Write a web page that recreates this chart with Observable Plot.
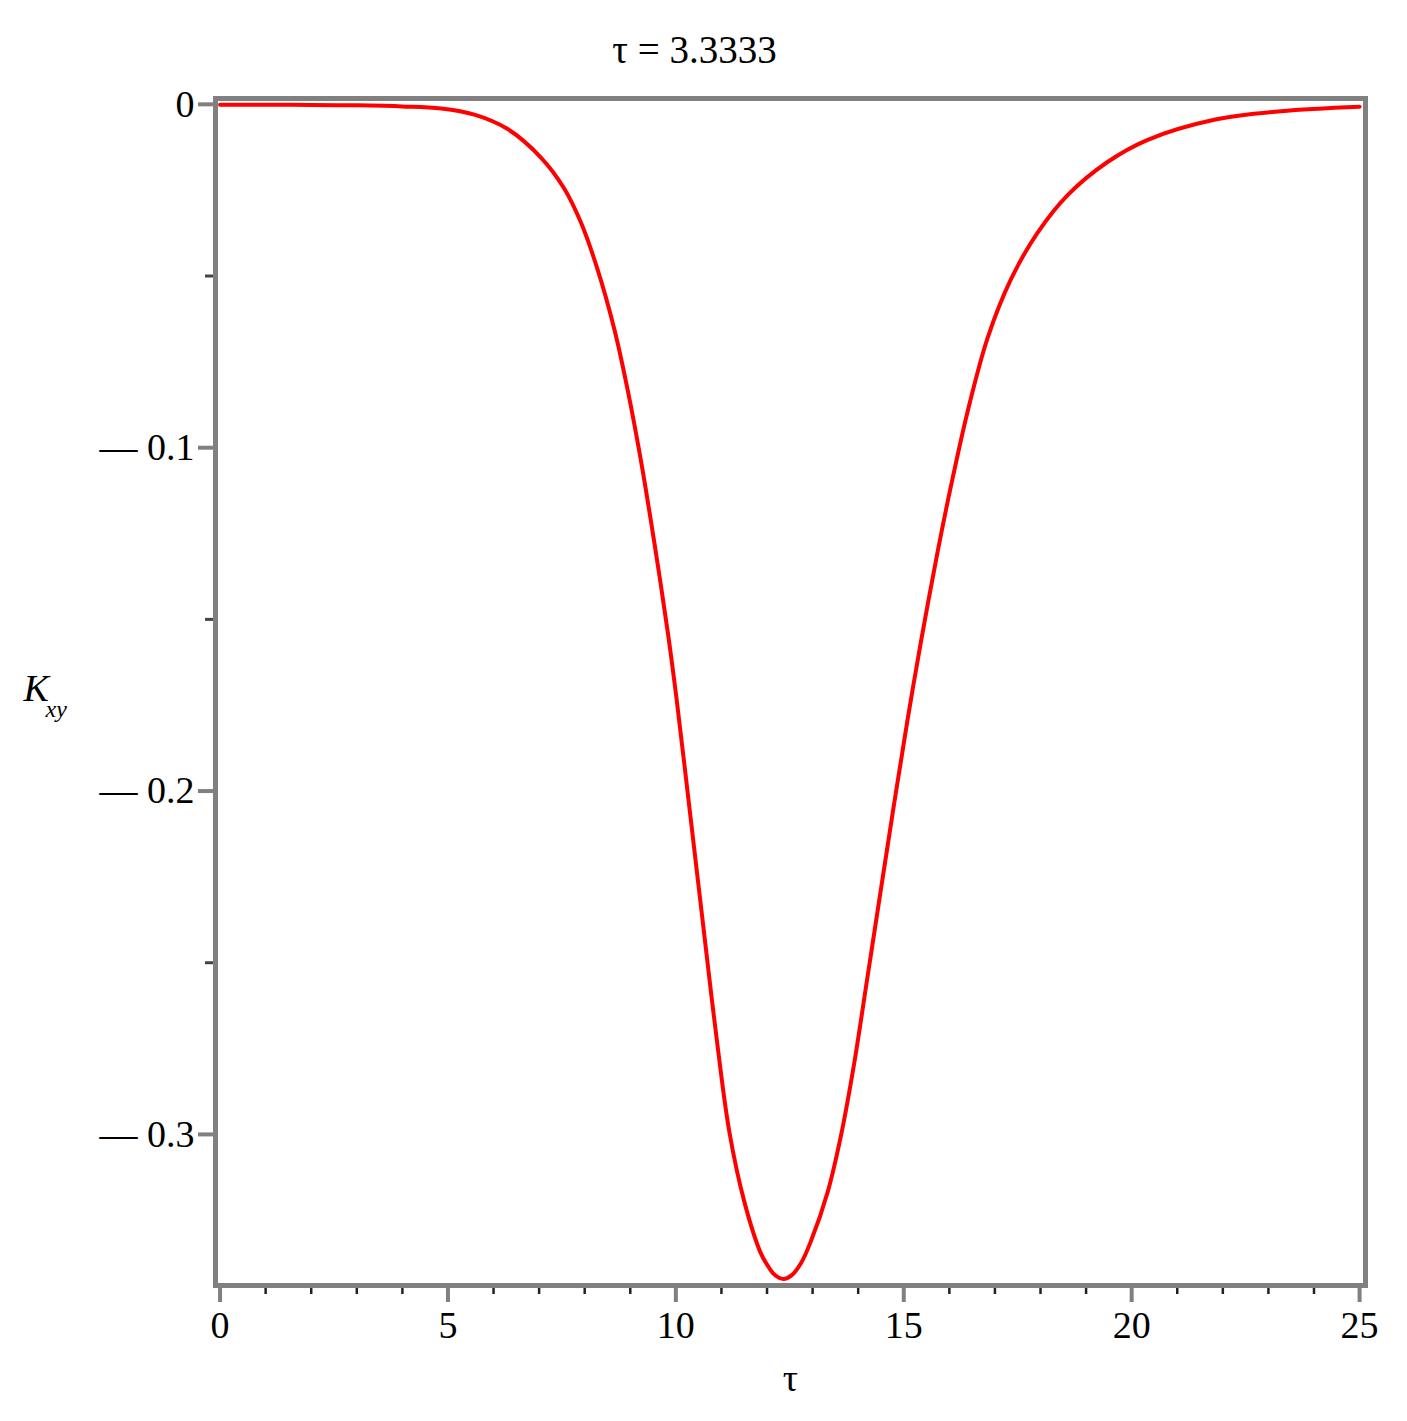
<!DOCTYPE html>
<html>
<head>
<meta charset="utf-8">
<script src="https://cdn.jsdelivr.net/npm/d3@7"></script>
<script src="https://cdn.jsdelivr.net/npm/@observablehq/plot@0.6"></script>
<style>
  html, body { margin: 0; padding: 0; background: #fff; }
  #title {
    width: 1407px; height: 80px; box-sizing: border-box;
    padding-top: 20px; padding-right: 18px; line-height: 60px;
    text-align: center; font-family: 'Liberation Serif', serif; font-size: 39px; color: #000;
  }
</style>
</head>
<body>
<div id="title">τ = 3.3333</div>
<div id="chart"></div>
<script>
// Curve K_xy(τ)
const tau = [0, 1, 2, 3, 4, 4.85, 5.58, 6.31, 7.04, 7.55, 7.92, 8.28, 8.65, 8.94, 9.23, 9.52, 9.82, 10.0,
  10.18, 10.40, 10.62, 10.88, 11.17, 11.50, 11.86, 12.0, 12.16, 12.36, 12.55, 12.75, 12.96, 13.33, 13.62,
  13.91, 14.20, 14.50, 14.79, 15.08, 15.37, 15.74, 16.03, 16.40, 16.84, 17.35, 17.93, 18.59, 19.47,
  20.34, 21.81, 23.27, 25];
const kxy = [-0.0001, -0.0001, -0.0002, -0.0003, -0.0006, -0.0012, -0.003, -0.0072, -0.0155, -0.0245,
  -0.0345, -0.048, -0.0655, -0.083, -0.1035, -0.127, -0.1535, -0.1715, -0.1915, -0.2165, -0.2415,
  -0.2705, -0.299, -0.3195, -0.3345, -0.3379, -0.3408, -0.3421, -0.3409, -0.3374, -0.3312, -0.3168,
  -0.3005, -0.2795, -0.2545, -0.2285, -0.2035, -0.1795, -0.157, -0.1305, -0.1115, -0.0895, -0.068,
  -0.051, -0.0375, -0.0265, -0.0168, -0.0104, -0.0045, -0.002, -0.0007];

const xMajorTicks = [0, 5, 10, 15, 20, 25];
const xMinorTicks = [1, 2, 3, 4, 6, 7, 8, 9, 11, 12, 13, 14, 16, 17, 18, 19, 21, 22, 23, 24];
const yMajorTicks = [0, -0.1, -0.2, -0.3];
const yMajorLabels = ["0", "\u2014 0.1", "\u2014 0.2", "\u2014 0.3"];
const yMinorTicks = [-0.05, -0.15, -0.25];

const xLabel = "τ";
const yLabelMain = "K";
const yLabelSub = "xy";

const data = tau.map((t, i) => ({tau: t, k: kxy[i]}));

const chart = Plot.plot({
  width: 1407,
  height: 1341,
  marginLeft: 215,
  marginRight: 42,
  marginTop: 18,
  marginBottom: 136,
  style: {fontFamily: "'Liberation Serif', serif", fontSize: "38px", background: "#fff", color: "#000"},
  x: {domain: [-0.1, 25.13]},
  y: {domain: [-0.344, 0.0017]},
  marks: [
    Plot.axisX(xMinorTicks, {tickSize: 9, tickFormat: () => "", stroke: "#222", strokeWidth: 2.5, label: null}),
    Plot.axisX(xMajorTicks, {tickSize: 17, tickPadding: 9, stroke: "#808080", strokeWidth: 4, tickFormat: d => String(d), label: null}),
    Plot.axisY(yMinorTicks, {tickSize: 10, tickFormat: () => "", stroke: "#444", strokeWidth: 3, label: null}),
    Plot.axisY(yMajorTicks, {tickSize: 17, tickPadding: 4, stroke: "#808080", strokeWidth: 4,
      tickFormat: d => yMajorLabels[yMajorTicks.indexOf(d)], label: null}),
    Plot.frame({stroke: "#808080", strokeWidth: 5}),
    Plot.line(data, {x: "tau", y: "k", stroke: "#ff0000", strokeWidth: 4, curve: "catmull-rom"}),
    Plot.text([xLabel], {frameAnchor: "bottom", dy: 105, fontSize: 38}),
    Plot.text([yLabelMain], {frameAnchor: "left", textAnchor: "start", dx: -192, dy: -3.5, fontStyle: "italic", fontSize: 38}),
    Plot.text([yLabelSub], {frameAnchor: "left", textAnchor: "start", dx: -170, dy: 17, fontStyle: "italic", fontSize: 24})
  ]
});
document.getElementById("chart").appendChild(chart);
</script>
</body>
</html>
